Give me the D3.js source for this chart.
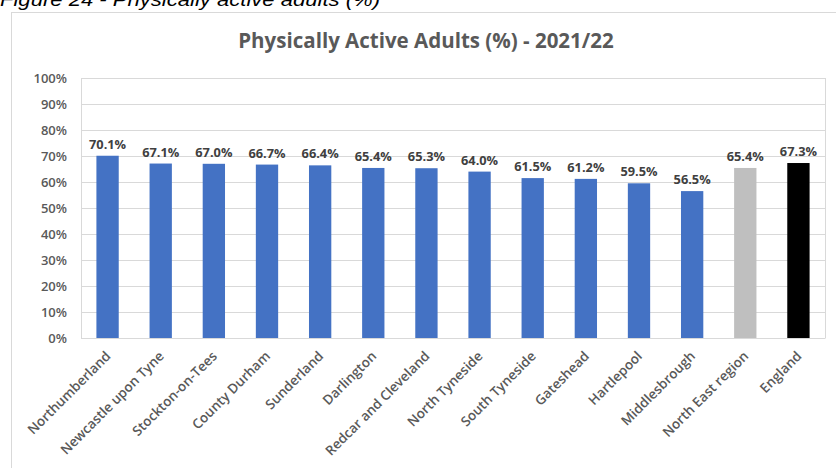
<!DOCTYPE html>
<html><head><meta charset="utf-8">
<script src="https://cdn.jsdelivr.net/npm/d3@7"></script>
<style>body{margin:0;background:#fff;}svg{display:block;}</style>
</head><body>
<script>
const categories = ["Northumberland","Newcastle upon Tyne","Stockton-on-Tees","County Durham","Sunderland","Darlington","Redcar and Cleveland","North Tyneside","South Tyneside","Gateshead","Hartlepool","Middlesbrough","North East region","England"];
const values = [70.1,67.1,67.0,66.7,66.4,65.4,65.3,64.0,61.5,61.2,59.5,56.5,65.4,67.3];
const barColors = ["#4472C4","#4472C4","#4472C4","#4472C4","#4472C4","#4472C4","#4472C4","#4472C4","#4472C4","#4472C4","#4472C4","#4472C4","#BFBFBF","#000000"];
const yTicks = [0,10,20,30,40,50,60,70,80,90,100];
const title = "Physically Active Adults (%) - 2021/22";
const caption = "Figure 24 - Physically active adults (%)";

const W = 836, H = 468;
const svg = d3.select("body").append("svg").attr("width", W).attr("height", H);
const font = "'Open Sans', 'Liberation Sans', sans-serif";

// caption (partly cut at top, as in the reference)
svg.append("text").attr("x", 0).attr("y", 6).attr("font-family", "'Liberation Sans', sans-serif")
  .attr("font-style", "italic").attr("font-size", 19).attr("fill", "#000")
  .attr("textLength", 380).attr("lengthAdjust", "spacingAndGlyphs").text(caption);

// chart border
svg.append("rect").attr("x", 11.5).attr("y", 12.5).attr("width", 840).attr("height", 470)
  .attr("fill", "none").attr("stroke", "#d9d9d9");

svg.append("text").attr("x", 426).attr("y", 48).attr("text-anchor", "middle")
  .attr("font-family", font).attr("font-weight", "bold").attr("font-size", 20.5)
  .attr("fill", "#595959").text(title);

const m = {l: 81, r: 825, t: 78, b: 338};
const x = d3.scaleBand().domain(categories).range([m.l, m.r]).paddingInner(0.58).paddingOuter(0.29);
const y = d3.scaleLinear().domain([0, 100]).range([m.b, m.t]);

// gridlines
svg.append("g").selectAll("line").data(yTicks).join("line")
  .attr("x1", m.l).attr("x2", m.r).attr("y1", d => Math.round(y(d)) + 0.5).attr("y2", d => Math.round(y(d)) + 0.5)
  .attr("stroke", "#d9d9d9").attr("stroke-width", 1);
// plot border sides
svg.append("line").attr("x1", m.l + 0.5).attr("x2", m.l + 0.5).attr("y1", m.t).attr("y2", m.b).attr("stroke", "#d9d9d9");
svg.append("line").attr("x1", m.r + 0.5).attr("x2", m.r + 0.5).attr("y1", m.t).attr("y2", m.b).attr("stroke", "#d9d9d9");

// y axis
const yAxis = d3.axisLeft(y).tickValues(yTicks).tickFormat(d => d + "%").tickSize(0).tickPadding(14);
const ya = svg.append("g").attr("transform", `translate(${m.l},0)`).call(yAxis);
ya.select(".domain").remove();
ya.selectAll("text").attr("font-family", font).attr("font-size", 13).attr("font-weight", 600).attr("fill", "#595959");

// bars
svg.append("g").selectAll("rect").data(values).join("rect")
  .attr("x", (d, i) => x(categories[i])).attr("width", x.bandwidth())
  .attr("y", d => y(d)).attr("height", d => y(0) - y(d))
  .attr("fill", (d, i) => barColors[i]);

// value labels
svg.append("g").selectAll("text").data(values).join("text")
  .attr("x", (d, i) => x(categories[i]) + x.bandwidth() / 2).attr("y", d => y(d) - 7)
  .attr("text-anchor", "middle").attr("font-family", font).attr("font-weight", "bold")
  .attr("font-size", 12.8).attr("fill", "#404040").text(d => d.toFixed(1) + "%");

// x axis
const xAxis = d3.axisBottom(x).tickSize(0).tickPadding(0);
const xa = svg.append("g").attr("transform", `translate(0,${m.b})`).call(xAxis);
xa.select(".domain").attr("stroke", "#d9d9d9");
xa.selectAll("text").attr("font-family", font).attr("font-size", 13.5).attr("font-weight", 600).attr("fill", "#595959")
  .attr("text-anchor", "end").attr("dy", null).attr("dx", null)
  .attr("transform", "translate(4,19) rotate(-45)");
</script>
</body></html>
